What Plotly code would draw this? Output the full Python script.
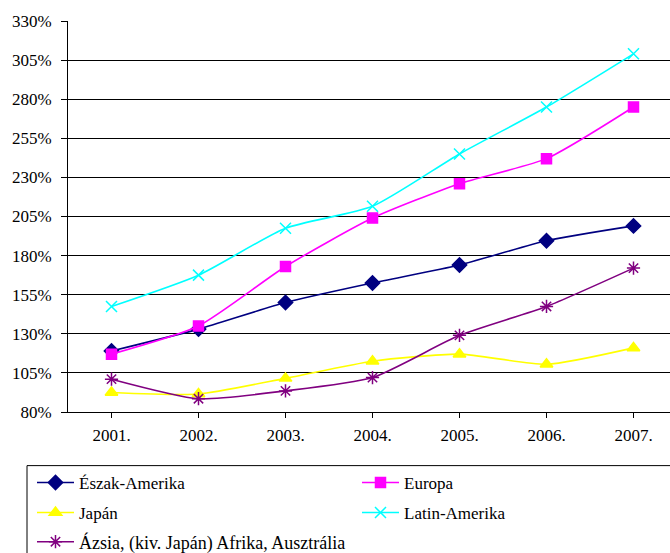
import plotly.graph_objects as go

years = ["2001.", "2002.", "2003.", "2004.", "2005.", "2006.", "2007."]
eszak_amerika = [119, 133, 150, 162.5, 174, 189.5, 199]
europa = [117, 135, 173, 204, 226, 242, 275]
japan = [92.5, 91.5, 101.5, 112.5, 117, 110.5, 121]
latin_amerika = [147.5, 167.5, 197.5, 211.5, 245, 275, 309]
azsia = [101, 88.5, 93.5, 102, 129, 147.5, 172]

y_ticks = [80, 105, 130, 155, 180, 205, 230, 255, 280, 305, 330]
y_ticklabels = [f"{v}%" for v in y_ticks]

FONT = "Liberation Serif"

W, H = 670, 553
PL, PR = 68, 670
PT, PB = 20.7, 412.3
pw = PR - PL
ph = PB - PT

def px_x(px):
    return (px - PL) / pw

def px_y(py):
    return (PB - py) / ph

# legend slot positions (marker centre x, row centre y, font size) in pixels
series = [
    ("Észak-Amerika", eszak_amerika, "#000080", "diamond", 11, "legend", 55, 483, 17),
    ("Europa", europa, "#FF00FF", "square", 10, "legend2", 380, 483, 17),
    ("Japán", japan, "#FFFF00", "triangle-up", 11, "legend3", 55, 513, 17),
    ("Latin-Amerika", latin_amerika, "#00FFFF", "x-thin-open", 11, "legend4", 380, 513, 17),
    ("Ázsia, (kiv. Japán) Afrika, Ausztrália", azsia, "#800080", "asterisk-open", 11, "legend5", 55, 542, 18),
]

fig = go.Figure()
legends = {}
for name, vals, color, sym, size, lg, lx, ly, fs in series:
    fig.add_trace(go.Scatter(
        x=list(range(len(years))), y=vals, name=name, mode="lines+markers",
        line=dict(color=color, width=1.6, shape="spline", smoothing=0.6),
        marker=dict(symbol=sym, size=size, color=color, line=dict(color=color, width=1.5)),
        legend=lg,
    ))
    legends[lg] = dict(
        orientation="h", xanchor="left", yanchor="middle",
        xref="container", yref="container",
        x=(lx - 23) / W, y=1 - ly / H,
        font=dict(family=FONT, size=fs, color="black"),
        bgcolor="rgba(0,0,0,0)", borderwidth=0, itemwidth=37,
    )

fig.update_layout(
    width=W, height=H,
    margin=dict(l=PL, r=0, t=PT, b=H - PB, pad=0, autoexpand=False),
    paper_bgcolor="white", plot_bgcolor="white",
    font=dict(family=FONT, size=17, color="black"),
    showlegend=True,
    **legends,
    xaxis=dict(
        tickmode="array", tickvals=list(range(len(years))), ticktext=years,
        range=[-0.5, -0.5 + pw / 87.0],
        showgrid=False, zeroline=False,
        showline=True, linecolor="black", linewidth=1,
        ticks="outside", ticklen=5, tickcolor="black", tickson="boundaries",
        ticklabelstandoff=3,
        tickfont=dict(family=FONT, size=17, color="black"),
    ),
    yaxis=dict(
        range=[80, 330], tickmode="array", tickvals=y_ticks, ticktext=y_ticklabels,
        showgrid=True, gridcolor="black", gridwidth=1, zeroline=False,
        showline=True, linecolor="black", linewidth=1,
        ticks="outside", ticklen=6, tickcolor="black",
        ticklabelstandoff=6,
        tickfont=dict(family=FONT, size=17, color="black"),
    ),
    shapes=[dict(type="rect", xref="paper", yref="paper",
                 x0=px_x(27), x1=1.2, y0=px_y(466), y1=px_y(600),
                 line=dict(color="black", width=1), fillcolor="rgba(0,0,0,0)")],
)

fig.write_html("out.html")
